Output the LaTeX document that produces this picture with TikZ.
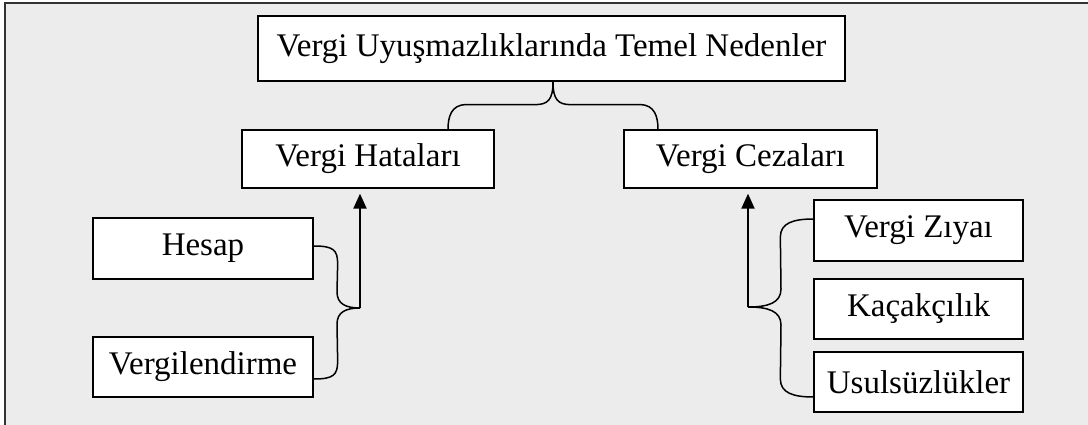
\documentclass[tikz,border=0pt]{standalone}
\usepackage{fontspec}
\setmainfont{Liberation Serif}
\usetikzlibrary{arrows.meta,calc}
\definecolor{bggray}{HTML}{ECECEC}
\definecolor{framegray}{HTML}{333333}
\begin{document}
\begin{tikzpicture}[x=1pt,y=-1pt,
  box/.style={draw=black,line width=1.3pt,fill=white,inner sep=0pt,
    font=\fontsize{33}{38}\selectfont},
  brace/.style={draw=black,line width=1.5pt},
  uparrow/.style={draw=black,line width=2pt,-{Triangle[width=13pt,length=15pt]}}]
\useasboundingbox (0,0) rectangle (1088,425);
\begin{scope}
  \clip (0,0) rectangle (1088,425);
  \draw[fill=bggray,draw=framegray,line width=1.5pt] (5,3) rectangle (1095,432);
\end{scope}

% nodes
\node[box,minimum width=587pt,minimum height=65pt] (top) at (551.5,48.5) {Vergi Uyuşmazlıklarında Temel Nedenler};
\node[box,minimum width=252pt,minimum height=58pt] (hat) at (368,159) {Vergi Hataları};
\node[box,minimum width=253pt,minimum height=58pt] (cez) at (750.5,159) {Vergi Cezaları};
\node[box,minimum width=220pt,minimum height=61pt] (hes) at (203,248.5) {Hesap};
\node[box,minimum width=220pt,minimum height=60pt] (ver) at (203,367) {Vergilendirme};
\node[box,minimum width=209pt,minimum height=61pt] (ziy) at (918.5,230.5) {Vergi Zıyaı};
\node[box,minimum width=209pt,minimum height=60pt] (kac) at (918.5,309) {Kaçakçılık};
\node[box,minimum width=209pt,minimum height=60pt] (usu) at (918.5,382) {Usulsüzlükler};

% top brace
\coordinate (tt) at (top.south -| 553,0);
\coordinate (hl) at (hat.north -| 448,0);
\coordinate (cr) at (cez.north -| 658,0);
\path[brace] (tt) .. controls ($(tt)+(0,18)$) and ($(tt)+(-5,23)$) .. ($(tt)+(-18,23)$)
  -- ($(hl |- tt)+(18,23)$) .. controls ($(hl |- tt)+(3,23)$) and ($(hl)+(0,-12)$) .. (hl);
\path[brace] (tt) .. controls ($(tt)+(0,18)$) and ($(tt)+(5,23)$) .. ($(tt)+(18,23)$)
  -- ($(cr |- tt)+(-18,23)$) .. controls ($(cr |- tt)+(-3,23)$) and ($(cr)+(0,-12)$) .. (cr);

% left brace
\coordinate (lt) at (360,308);
\coordinate (he) at ($(hes.east)+(0,-2.5)$);
\coordinate (ve) at ($(ver.east)+(0,12)$);
\path[brace] (he) .. controls ($(he)+(20,0)$) and ($(he)+(24,4)$) .. ($(he)+(24,18)$)
  -- ($(lt)+(-23,-16)$) .. controls ($(lt)+(-23,-4)$) and ($(lt)+(-14,0)$) .. (lt);
\path[brace] (ve) .. controls ($(ve)+(20,0)$) and ($(ve)+(24,-4)$) .. ($(ve)+(24,-18)$)
  -- ($(lt)+(-23,16)$) .. controls ($(lt)+(-23,4)$) and ($(lt)+(-14,0)$) .. (lt);
\path[uparrow,shorten >=5pt] (lt) -- (lt |- hat.south);

% right brace
\coordinate (rt) at (748,307);
\coordinate (ze) at ($(ziy.west)+(0,-11.5)$);
\coordinate (ue) at ($(usu.west)+(0,15)$);
\path[brace] (ze) .. controls ($(ze)+(-20,0)$) and ($(ze)+(-33,4)$) .. ($(ze)+(-33,18)$)
  -- ($(rt)+(33,-18)$) .. controls ($(rt)+(33,-4)$) and ($(rt)+(20,0)$) .. (rt);
\path[brace] (ue) .. controls ($(ue)+(-20,0)$) and ($(ue)+(-33,-4)$) .. ($(ue)+(-33,-18)$)
  -- ($(rt)+(33,18)$) .. controls ($(rt)+(33,4)$) and ($(rt)+(20,0)$) .. (rt);
\path[uparrow,shorten >=5pt] (rt) -- (rt |- cez.south);
\end{tikzpicture}
\end{document}
